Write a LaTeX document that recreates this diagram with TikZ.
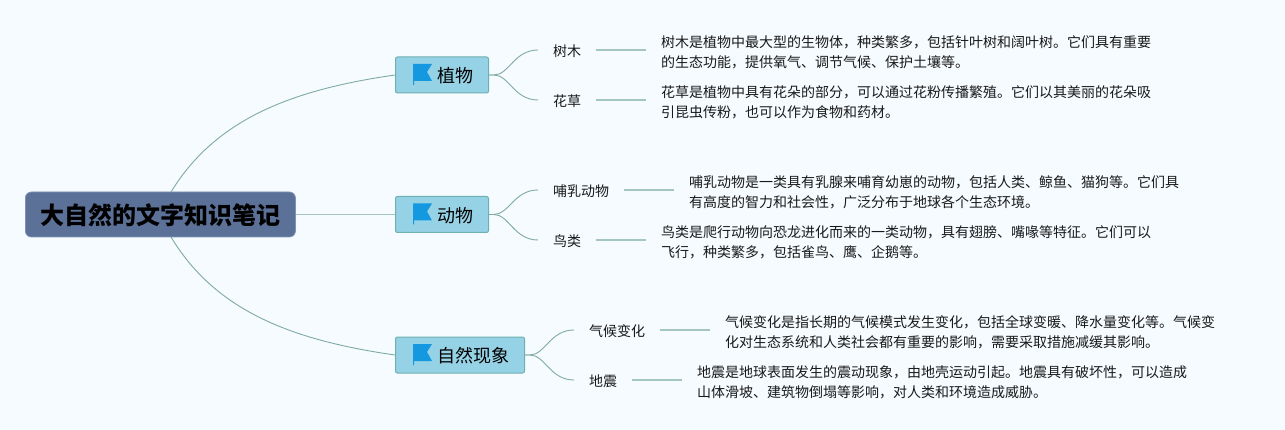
\documentclass[tikz,border=0pt]{standalone}
\usepackage{fontspec}
\usetikzlibrary{calc}
\setmainfont{Noto Sans CJK SC}
\newcommand{\dn}[1]{\raisebox{-1pt}[\height][\depth]{#1}}
\begin{document}
\begin{tikzpicture}[x=1pt,y=-1pt,
  rootbox/.style={draw=rootedge,fill=rootfill,line width=0.8pt,rounded corners=6pt,minimum width=270pt,minimum height=45pt,inner sep=0pt,anchor=west,font=\fontsize{24}{28}\selectfont\bfseries,text=black},
  branchbox/.style={draw=branchedge,fill=branchfill,line width=1pt,rounded corners=2pt,minimum height=36pt,inner sep=0pt,anchor=west,font=\fontsize{18}{22}\selectfont,text=black},
  leafbox/.style={inner xsep=15pt,inner ysep=0pt,minimum height=20pt,anchor=west,font=\fontsize{14}{18}\selectfont,text=black!90},
  descbox/.style={inner xsep=15pt,inner ysep=0pt,anchor=west,align=left,font=\fontsize{14}{20}\selectfont,text=black!90},
  curve/.style={draw=linecol,line width=0.9pt},
  thick link/.style={draw=linelight,line width=1.7pt}]
\definecolor{bgcol}{HTML}{F5FBFF}
\definecolor{rootfill}{HTML}{5B7198}
\definecolor{rootedge}{HTML}{7E93B5}
\definecolor{branchfill}{HTML}{96D2E5}
\definecolor{branchedge}{HTML}{6FAFB0}
\definecolor{linecol}{HTML}{7FAAA2}
\definecolor{linelight}{HTML}{A3C6C0}
\definecolor{flagcol}{HTML}{1499E0}
\useasboundingbox (0,0) rectangle (1285,430);
\fill[bgcol] (0,0) rectangle (1285,430);

\node[rootbox] (root) at (25,214.5) {\dn{大自然的文字知识笔记}};

\node[branchbox,minimum width=93pt,text width=93pt,align=left] (b1) at (395,75) {\hspace{42pt}\dn{植物}};
\node[branchbox,minimum width=93pt,text width=93pt,align=left] (b2) at (395,214.5) {\hspace{42pt}\dn{动物}};
\node[branchbox,minimum width=129pt,text width=129pt,align=left] (b3) at (395,355) {\hspace{42pt}\dn{自然现象}};

\foreach \yy in {75,214.5,355}{
  \fill[flagcol] (413,\yy-11) -- (432,\yy-11) -- (427,\yy-3) -- (432,\yy+6) -- (414,\yy+6) -- (414,\yy+10) -- (413,\yy+10) -- cycle;
}

\node[leafbox] (l1) at (538,50) {\dn{树木}};
\node[leafbox] (l2) at (538,100) {\dn{花草}};
\node[leafbox] (l3) at (538,190) {\dn{哺乳动物}};
\node[leafbox] (l4) at (538,240) {\dn{鸟类}};
\node[leafbox] (l5) at (574,330) {\dn{气候变化}};
\node[leafbox] (l6) at (574,380) {\dn{地震}};

\node[descbox] (d1) at (646,52) {树木是植物中最大型的生物体，种类繁多，包括针叶树和阔叶树。它们具有重要\\的生态功能，提供氧气、调节气候、保护土壤等。};
\node[descbox] (d2) at (646,102) {花草是植物中具有花朵的部分，可以通过花粉传播繁殖。它们以其美丽的花朵吸\\引昆虫传粉，也可以作为食物和药材。};
\node[descbox] (d3) at (674,192) {哺乳动物是一类具有乳腺来哺育幼崽的动物，包括人类、鲸鱼、猫狗等。它们具\\有高度的智力和社会性，广泛分布于地球各个生态环境。};
\node[descbox] (d4) at (646,242) {鸟类是爬行动物向恐龙进化而来的一类动物，具有翅膀、嘴喙等特征。它们可以\\飞行，种类繁多，包括雀鸟、鹰、企鹅等。};
\node[descbox] (d5) at (710,332) {气候变化是指长期的气候模式发生变化，包括全球变暖、降水量变化等。气候变\\化对生态系统和人类社会都有重要的影响，需要采取措施减缓其影响。};
\node[descbox] (d6) at (682,382) {地震是地球表面发生的震动现象，由地壳运动引起。地震具有破坏性，可以造成\\山体滑坡、建筑物倒塌等影响，对人类和环境造成威胁。};

% root links
\draw[curve] (171,192) .. controls (215,120) and (290,90) .. (b1.west);
\draw[curve] (171,237) .. controls (215,310) and (290,340) .. (b3.west);
\draw[thick link] (root.east) -- (b2.west);

% branch to leaf
\foreach \b/\l in {b1/l1,b1/l2,b2/l3,b2/l4,b3/l5,b3/l6}{
  \draw[curve] (\b.east) -- ++(5,0) .. controls +(15,0) and ($(\l.west)+(-24,0)$) .. (\l.west);
}
% leaf to description
\foreach \l/\d in {l1/d1,l2/d2,l3/d3,l4/d4,l5/d5,l6/d6}{
  \draw[thick link] (\l.east) -- (\l.east -| \d.west);
}
\end{tikzpicture}
\end{document}
